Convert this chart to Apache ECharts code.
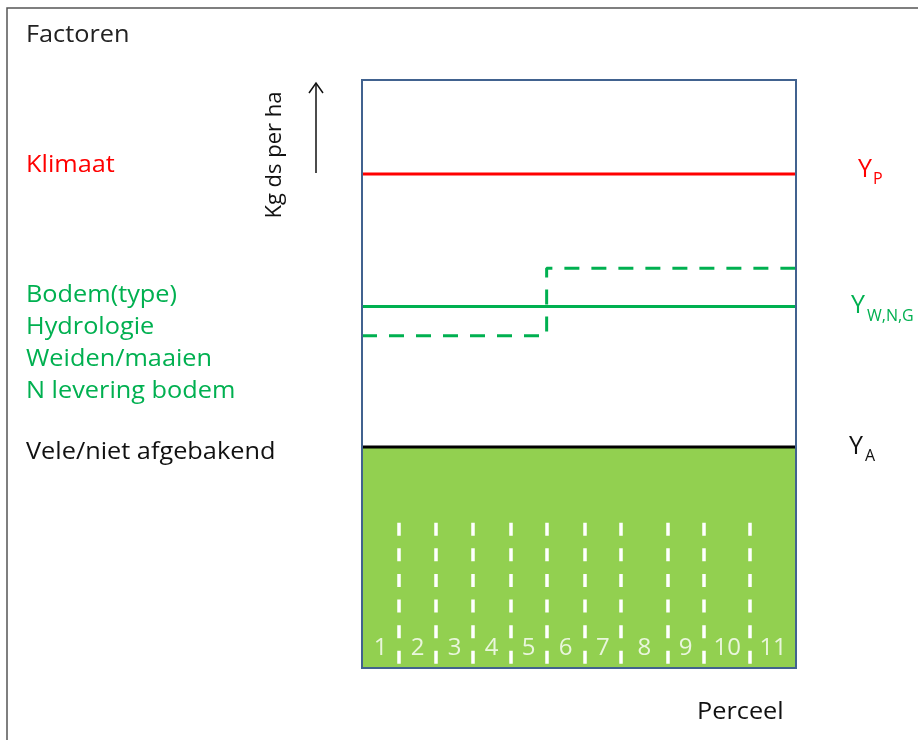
<!DOCTYPE html>
<html>
<head>
<meta charset="utf-8">
<script src="https://cdn.jsdelivr.net/npm/echarts@6/dist/echarts.min.js"></script>
<style>
html,body{margin:0;padding:0;background:#fff;}
#chart{width:918px;height:740px;}
</style>
</head>
<body>
<div id="chart"></div>
<script>
// ---- data ----
const parcels = ['1','2','3','4','5','6','7','8','9','10','11'];
const parcelBoundaries = [0.94, 1.88, 2.81, 3.76, 4.68, 5.64, 6.57, 7.74, 8.67, 9.84];
const xRange = [0, 11];
const yRange = [0, 100];
const yPotential = 84.0;          // Y_P (Klimaat)
const yWNG = 61.5;                // Y_W,N,G (solid)
const yWNGParcelLow = 56.5;       // dashed, parcels 1-5
const yWNGParcelHigh = 68.0;      // dashed, parcels 6-11
const stepBoundary = 4.68;
const yActual = 37.6;             // Y_A
const dividerTop = 24.7;
const dividerBottom = 0.4;
const parcelLabelY = 3.4;
const factorLabels = ['Bodem(type)', 'Hydrologie', 'Weiden/maaien', 'N levering bodem'];

// ---- build ----
const edges = [xRange[0]].concat(parcelBoundaries, [xRange[1]]);
const labelData = parcels.map((p, i) => ({ value: [(edges[i] + edges[i + 1]) / 2, parcelLabelY], name: p }));
const dividerLines = parcelBoundaries.map(b => [{ coord: [b, dividerTop] }, { coord: [b, dividerBottom] }]);

const FONT = 'Open Sans';
const green = '#00b050';
const red = '#ff0000';

const chart = echarts.init(document.getElementById('chart'), null, { renderer: 'canvas' });

function txt(text, x, y, color, size, extra) {
  return Object.assign({
    type: 'text', x: x, y: y, z: 20, scaleX: 1.1,
    style: { text: text, fill: color, font: size + 'px "' + FONT + '"', verticalAlign: 'middle', align: 'left' }
  }, extra || {});
}

const graphics = [
  { type: 'rect', shape: { x: 7, y: 8, width: 1200, height: 1200 }, style: { fill: 'none', stroke: '#555', lineWidth: 1.5 }, z: 1, silent: true },
  txt('Factoren', 26, 35, '#222', 23),
  txt('Klimaat', 26, 165, red, 23),
  txt('Vele/niet afgebakend', 26, 452, '#111', 23),
  txt('Perceel', 697, 712, '#111', 23),
  txt('Y', 858, 170, red, 25, { scaleX: 1 }),
  txt('P', 873, 179, red, 16, { scaleX: 1 }),
  txt('Y', 851, 306, green, 25, { scaleX: 1 }),
  txt('W,N,G', 867, 316, green, 16, { scaleX: 1 }),
  txt('Y', 849, 447, '#111', 25, { scaleX: 1 }),
  txt('A', 865, 456, '#111', 16, { scaleX: 1 }),
  {
    type: 'text', x: 275, y: 155, rotation: Math.PI / 2, z: 20,
    style: { text: 'Kg ds per ha', fill: '#111', font: '22px "' + FONT + '"', align: 'center', verticalAlign: 'middle' }
  },
  { type: 'line', shape: { x1: 316, y1: 173, x2: 316, y2: 83 }, style: { stroke: '#111', lineWidth: 1.5 }, z: 20 },
  { type: 'polyline', shape: { points: [[309, 93], [316, 83], [323, 93]] }, style: { stroke: '#111', lineWidth: 1.5, fill: 'none' }, z: 20 }
];
factorLabels.forEach((t, i) => graphics.push(txt(t, 26, 295 + i * 32, green, 23)));

const option = {
  backgroundColor: '#fff',
  animation: false,
  grid: { left: 362, right: 122, top: 80, bottom: 72, show: true, z: 10, borderColor: '#41628f', borderWidth: 2, backgroundColor: 'transparent' },
  xAxis: { type: 'value', min: xRange[0], max: xRange[1], axisLine: { show: false }, axisTick: { show: false }, axisLabel: { show: false }, splitLine: { show: false } },
  yAxis: { type: 'value', min: yRange[0], max: yRange[1], axisLine: { show: false }, axisTick: { show: false }, axisLabel: { show: false }, splitLine: { show: false } },
  graphic: graphics,
  series: [
    {
      name: 'Y_A', type: 'line', z: 2, symbol: 'none', silent: true,
      data: [[xRange[0], yActual], [xRange[1], yActual]],
      lineStyle: { color: '#000', width: 3 },
      areaStyle: { color: '#92d050', opacity: 1, origin: 'start' },
      markLine: {
        silent: true, symbol: 'none', label: { show: false },
        lineStyle: { color: '#fff', width: 3.5, type: [13, 12.6] },
        data: dividerLines
      }
    },
    {
      name: 'Y_P', type: 'line', z: 3, symbol: 'none', silent: true,
      data: [[xRange[0], yPotential], [xRange[1], yPotential]],
      lineStyle: { color: red, width: 3 }
    },
    {
      name: 'Y_WNG', type: 'line', z: 3, symbol: 'none', silent: true,
      data: [[xRange[0], yWNG], [xRange[1], yWNG]],
      lineStyle: { color: green, width: 3 }
    },
    {
      name: 'Y_WNG parcels', type: 'line', z: 3, symbol: 'none', silent: true,
      data: [[xRange[0], yWNGParcelLow], [stepBoundary, yWNGParcelLow], [stepBoundary, yWNGParcelHigh], [xRange[1], yWNGParcelHigh]],
      lineStyle: { color: green, width: 3, type: [15, 12] }
    },
    {
      name: 'parcels', type: 'scatter', z: 4, symbolSize: 1, silent: true,
      itemStyle: { color: 'rgba(0,0,0,0)' },
      label: { show: true, position: 'inside', formatter: p => p.name, color: '#fff', fontSize: 24, fontFamily: FONT },
      data: labelData
    }
  ]
};
chart.setOption(option);
</script>
</body>
</html>
